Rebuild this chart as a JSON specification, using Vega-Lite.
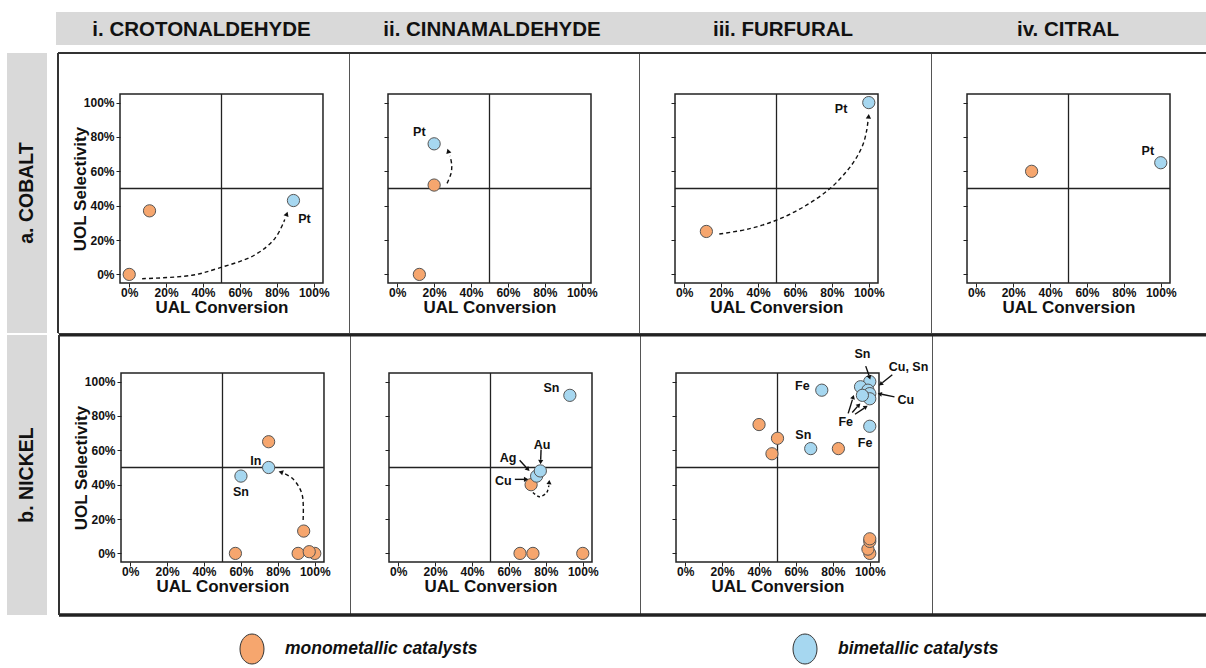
{
"$schema": "https://vega.github.io/schema/vega-lite/v6.json",
"padding": {"left": 7, "top": 12, "right": 0, "bottom": 0},
"background": "white",
"spacing": 6,
"config": {
  "font": "Liberation Sans",
  "view": {"stroke": null},
  "axis": {"grid": false, "domain": false, "labelFont": "Liberation Sans", "labelFontWeight": "bold", "labelFontSize": 12, "labelColor": "#111", "labelFlush": false, "labelOverlap": false, "titleFont": "Liberation Sans", "titleFontWeight": "bold", "titleFontSize": 17, "titleColor": "#111", "tickColor": "#222", "tickWidth": 1},
  "axisX": {"labelPadding": 0},
  "axisY": {"labelPadding": 2}
},
"datasets": {
  "pts": [
    {"c": "a1", "x": 0, "y": 0, "t": "m"}, {"c": "a1", "x": 11, "y": 37, "t": "m"}, {"c": "a1", "x": 89, "y": 43, "t": "b"},
    {"c": "a2", "x": 12, "y": 0, "t": "m"}, {"c": "a2", "x": 20, "y": 52, "t": "m"}, {"c": "a2", "x": 20, "y": 76, "t": "b"},
    {"c": "a3", "x": 12, "y": 25, "t": "m"}, {"c": "a3", "x": 100, "y": 100, "t": "b"},
    {"c": "a4", "x": 30, "y": 60, "t": "m"}, {"c": "a4", "x": 100, "y": 65, "t": "b"},
    {"c": "b1", "x": 57, "y": 0, "t": "m"}, {"c": "b1", "x": 91, "y": 0, "t": "m"}, {"c": "b1", "x": 100, "y": 0, "t": "m"}, {"c": "b1", "x": 97, "y": 1, "t": "m"}, {"c": "b1", "x": 94, "y": 13, "t": "m"}, {"c": "b1", "x": 75, "y": 65, "t": "m"}, {"c": "b1", "x": 60, "y": 45, "t": "b"}, {"c": "b1", "x": 75, "y": 50, "t": "b"},
    {"c": "b2", "x": 66, "y": 0, "t": "m"}, {"c": "b2", "x": 73, "y": 0, "t": "m"}, {"c": "b2", "x": 100, "y": 0, "t": "m"}, {"c": "b2", "x": 72, "y": 40, "t": "m"}, {"c": "b2", "x": 75, "y": 45, "t": "b"}, {"c": "b2", "x": 77, "y": 48, "t": "b"}, {"c": "b2", "x": 93, "y": 92, "t": "b"},
    {"c": "b3", "x": 40, "y": 75, "t": "m"}, {"c": "b3", "x": 50, "y": 67, "t": "m"}, {"c": "b3", "x": 47, "y": 58, "t": "m"}, {"c": "b3", "x": 83, "y": 61, "t": "m"}, {"c": "b3", "x": 100, "y": 0, "t": "m"}, {"c": "b3", "x": 99, "y": 2.5, "t": "m"}, {"c": "b3", "x": 100, "y": 7, "t": "m"}, {"c": "b3", "x": 100, "y": 8.5, "t": "m"},
    {"c": "b3", "x": 74, "y": 95, "t": "b"}, {"c": "b3", "x": 68, "y": 61, "t": "b"}, {"c": "b3", "x": 100, "y": 74, "t": "b"}, {"c": "b3", "x": 100, "y": 100, "t": "b"}, {"c": "b3", "x": 95, "y": 97, "t": "b"}, {"c": "b3", "x": 99, "y": 95, "t": "b"}, {"c": "b3", "x": 100, "y": 93, "t": "b"}, {"c": "b3", "x": 100, "y": 90, "t": "b"}, {"c": "b3", "x": 96, "y": 92, "t": "b"}
  ],
  "lbl": [
    {"c": "a1", "x": 95, "y": 32, "s": "Pt"},
    {"c": "a2", "x": 12, "y": 83, "s": "Pt"},
    {"c": "a3", "x": 85, "y": 96.5, "s": "Pt"},
    {"c": "a4", "x": 93, "y": 72, "s": "Pt"},
    {"c": "b1", "x": 68, "y": 53.5, "s": "In"}, {"c": "b1", "x": 60, "y": 36, "s": "Sn"},
    {"c": "b2", "x": 83, "y": 96, "s": "Sn"}, {"c": "b2", "x": 78, "y": 63, "s": "Au"}, {"c": "b2", "x": 59.5, "y": 55.5, "s": "Ag"}, {"c": "b2", "x": 57, "y": 42, "s": "Cu"},
    {"c": "b3", "x": 63.5, "y": 97.5, "s": "Fe"}, {"c": "b3", "x": 64, "y": 69, "s": "Sn"}, {"c": "b3", "x": 97.5, "y": 64, "s": "Fe"}, {"c": "b3", "x": 87, "y": 76.5, "s": "Fe"}, {"c": "b3", "x": 96, "y": 116, "s": "Sn"}, {"c": "b3", "x": 121, "y": 108.5, "s": "Cu, Sn"}, {"c": "b3", "x": 119.5, "y": 89, "s": "Cu"}
  ],
  "crv": [
    {"c": "a1", "id": 1, "o": 1, "x": 7, "y": -2.5}, {"c": "a1", "id": 1, "o": 2, "x": 34, "y": -0.5}, {"c": "a1", "id": 1, "o": 3, "x": 48, "y": 3.5}, {"c": "a1", "id": 1, "o": 4, "x": 68, "y": 11.3}, {"c": "a1", "id": 1, "o": 5, "x": 79, "y": 21}, {"c": "a1", "id": 1, "o": 6, "x": 84.3, "y": 32},
    {"c": "a2", "id": 1, "o": 1, "x": 27, "y": 53}, {"c": "a2", "id": 1, "o": 2, "x": 29.2, "y": 59}, {"c": "a2", "id": 1, "o": 3, "x": 29.5, "y": 64}, {"c": "a2", "id": 1, "o": 4, "x": 28.6, "y": 69},
    {"c": "a3", "id": 1, "o": 1, "x": 19, "y": 23.5}, {"c": "a3", "id": 1, "o": 2, "x": 35, "y": 26.5}, {"c": "a3", "id": 1, "o": 3, "x": 50, "y": 31.6}, {"c": "a3", "id": 1, "o": 4, "x": 65, "y": 39.5}, {"c": "a3", "id": 1, "o": 5, "x": 79, "y": 50}, {"c": "a3", "id": 1, "o": 6, "x": 88, "y": 60}, {"c": "a3", "id": 1, "o": 7, "x": 93, "y": 67.4}, {"c": "a3", "id": 1, "o": 8, "x": 97, "y": 76}, {"c": "a3", "id": 1, "o": 9, "x": 98.9, "y": 84}, {"c": "a3", "id": 1, "o": 10, "x": 99.6, "y": 89.5},
    {"c": "b1", "id": 1, "o": 1, "x": 93.7, "y": 19.5}, {"c": "b1", "id": 1, "o": 2, "x": 93.8, "y": 27}, {"c": "b1", "id": 1, "o": 3, "x": 93.2, "y": 34}, {"c": "b1", "id": 1, "o": 4, "x": 91, "y": 39.5}, {"c": "b1", "id": 1, "o": 5, "x": 87.5, "y": 44}, {"c": "b1", "id": 1, "o": 6, "x": 83.5, "y": 46.5},
    {"c": "b2", "id": 1, "o": 1, "x": 73, "y": 35.5}, {"c": "b2", "id": 1, "o": 2, "x": 76.5, "y": 33}, {"c": "b2", "id": 1, "o": 3, "x": 80.5, "y": 35.5}, {"c": "b2", "id": 1, "o": 4, "x": 81.6, "y": 39.5}
  ],
  "ptr": [
    {"c": "b2", "id": "au", "o": 1, "x": 77.4, "y": 60.5}, {"c": "b2", "id": "au", "o": 2, "x": 77.2, "y": 54.5},
    {"c": "b2", "id": "ag", "o": 1, "x": 65.8, "y": 54.2}, {"c": "b2", "id": "ag", "o": 2, "x": 69.5, "y": 49.8},
    {"c": "b2", "id": "cu", "o": 1, "x": 63.2, "y": 43.1}, {"c": "b2", "id": "cu", "o": 2, "x": 68.2, "y": 43.1},
    {"c": "b3", "id": "sn", "o": 1, "x": 97.8, "y": 109}, {"c": "b3", "id": "sn", "o": 2, "x": 99.6, "y": 103.5},
    {"c": "b3", "id": "cusn", "o": 1, "x": 112.2, "y": 104}, {"c": "b3", "id": "cusn", "o": 2, "x": 106.8, "y": 99.3},
    {"c": "b3", "id": "cu", "o": 1, "x": 113.4, "y": 91.1}, {"c": "b3", "id": "cu", "o": 2, "x": 106.5, "y": 92.6},
    {"c": "b3", "id": "fe1", "o": 1, "x": 88.3, "y": 81.5}, {"c": "b3", "id": "fe1", "o": 2, "x": 90.6, "y": 89.5},
    {"c": "b3", "id": "fe2", "o": 1, "x": 90.5, "y": 82}, {"c": "b3", "id": "fe2", "o": 2, "x": 93.4, "y": 85.6},
    {"c": "b3", "id": "fe3", "o": 1, "x": 92, "y": 81}, {"c": "b3", "id": "fe3", "o": 2, "x": 97, "y": 84.6}
  ],
  "hd": [
    {"c": "a1", "x": 85.4, "y": 35.2, "fx": 84.3, "fy": 32},
    {"c": "a2", "x": 27.6, "y": 71.8, "fx": 28.6, "fy": 68.5},
    {"c": "a3", "x": 99.9, "y": 92, "fx": 99.6, "fy": 88},
    {"c": "b1", "x": 81.6, "y": 47.3, "fx": 84.5, "fy": 46.3},
    {"c": "b2", "x": 81.8, "y": 41.5, "fx": 81.6, "fy": 39},
    {"c": "b2", "x": 77.15, "y": 53.2, "fx": 77.3, "fy": 57},
    {"c": "b2", "x": 70.3, "y": 48.9, "fx": 67, "fy": 52.5},
    {"c": "b2", "x": 69.3, "y": 43.1, "fx": 66, "fy": 43.1},
    {"c": "b3", "x": 99.9, "y": 102.4, "fx": 98.5, "fy": 106.5},
    {"c": "b3", "x": 105.9, "y": 98.5, "fx": 109, "fy": 101.2},
    {"c": "b3", "x": 105.4, "y": 92.8, "fx": 109, "fy": 92},
    {"c": "b3", "x": 91, "y": 91, "fx": 89.5, "fy": 86},
    {"c": "b3", "x": 94.1, "y": 86.4, "fx": 92, "fy": 84},
    {"c": "b3", "x": 97.9, "y": 85.3, "fx": 95, "fy": 83.3}
  ]
},
"vconcat": [
  {"hconcat": [
    {"width": 40, "height": 33, "view": {"stroke": null}, "data": {"values": [{}]}, "mark": {"type": "text", "text": ""}, "encoding": {}},
    {"hconcat": [
      {"width": 291, "height": 33, "view": {"stroke": null, "fill": "#d9d9d9"}, "data": {"values": [{"s": "i. CROTONALDEHYDE"}]}, "mark": {"type": "text", "fontSize": 20.5, "fontWeight": "bold", "color": "#111", "dy": 1}, "encoding": {"text": {"field": "s"}}},
      {"width": 290, "height": 33, "view": {"stroke": null, "fill": "#d9d9d9"}, "data": {"values": [{"s": "ii. CINNAMALDEHYDE"}]}, "mark": {"type": "text", "fontSize": 20.5, "fontWeight": "bold", "color": "#111", "dy": 1}, "encoding": {"text": {"field": "s"}}},
      {"width": 292, "height": 33, "view": {"stroke": null, "fill": "#d9d9d9"}, "data": {"values": [{"s": "iii. FURFURAL"}]}, "mark": {"type": "text", "fontSize": 20.5, "fontWeight": "bold", "color": "#111", "dy": 1}, "encoding": {"text": {"field": "s"}}},
      {"width": 278, "height": 33, "view": {"stroke": null, "fill": "#d9d9d9"}, "data": {"values": [{"s": "iv. CITRAL"}]}, "mark": {"type": "text", "fontSize": 20.5, "fontWeight": "bold", "color": "#111", "dy": 1}, "encoding": {"text": {"field": "s"}}}
    ], "spacing": 0, "bounds": "flush"}
  ], "spacing": 9},
  {"vconcat": [
    {"hconcat": [
      {"width": 40, "height": 280, "view": {"stroke": null, "fill": "#d9d9d9"}, "data": {"values": [{"s": "a. COBALT"}]}, "mark": {"type": "text", "fontSize": 19.5, "fontWeight": "bold", "color": "#111", "angle": 270}, "encoding": {"text": {"field": "s"}}},
      {"hconcat": [
        {"width": 291, "height": 280, "view": {"stroke": "#555", "strokeWidth": 1},
         "layer": [
          {"data": {"values": [{}]}, "mark": {"type": "rect", "fill": "transparent", "stroke": "#222", "strokeWidth": 1.5},
           "encoding": {
             "x": {"datum": -5, "type": "quantitative", "scale": {"domain": [-38.6, 119.1], "nice": false, "zero": false}, "axis": {"values": [0,10,20,30,40,50,60,70,80,90,100], "labelExpr": "datum.value % 20 === 0 ? datum.value + '%' : ''", "tickSize": {"condition": {"test": "datum.value % 20 === 0", "value": 4}, "value": 2.5}, "offset": -50, "title": "UAL Conversion", "titleX": 163.5, "titlePadding": 1}},
             "x2": {"datum": 105},
             "y": {"datum": -5, "type": "quantitative", "scale": {"domain": [-34.1, 128.86], "nice": false, "zero": false}, "axis": {"values": [0,10,20,30,40,50,60,70,80,90,100], "labelExpr": "datum.value % 20 === 0 ? datum.value + '%' : ''", "tickSize": {"condition": {"test": "datum.value % 20 === 0", "value": 4}, "value": 2.5}, "offset": -62, "title": "UOL Selectivity", "titleY": 135.5, "titlePadding": -6}},
             "y2": {"datum": 105}}},
          {"data": {"values": [{}]}, "mark": {"type": "rule", "color": "#222", "strokeWidth": 1.3}, "encoding": {"x": {"datum": 50}, "y": {"datum": -5}, "y2": {"datum": 105}}},
          {"data": {"values": [{}]}, "mark": {"type": "rule", "color": "#222", "strokeWidth": 1.3}, "encoding": {"y": {"datum": 50}, "x": {"datum": -5}, "x2": {"datum": 105}}},
          {"data": {"name": "crv"}, "transform": [{"filter": "datum.c === 'a1'"}], "mark": {"type": "line", "interpolate": "catmull-rom", "strokeDash": [4, 3], "strokeWidth": 1.4, "color": "#111"}, "encoding": {"x": {"field": "x", "type": "quantitative"}, "y": {"field": "y", "type": "quantitative"}, "detail": {"field": "id"}, "order": {"field": "o"}}},
          {"data": {"name": "hd"}, "transform": [{"filter": "datum.c === 'a1'"}, {"calculate": "atan2((datum.x-datum.fx)*1.8455,(datum.y-datum.fy)*1.718)*180/PI", "as": "ang"}], "mark": {"type": "point", "shape": "triangle-up", "filled": true, "color": "#111", "opacity": 1, "size": 28}, "encoding": {"x": {"field": "x", "type": "quantitative"}, "y": {"field": "y", "type": "quantitative"}, "angle": {"field": "ang", "type": "quantitative", "scale": null}}},
          {"data": {"name": "pts"}, "transform": [{"filter": "datum.c === 'a1'"}], "mark": {"type": "circle", "size": 150, "stroke": "#555", "strokeWidth": 1, "opacity": 1}, "encoding": {"x": {"field": "x", "type": "quantitative"}, "y": {"field": "y", "type": "quantitative"}, "fill": {"field": "t", "type": "nominal", "scale": {"domain": ["m", "b"], "range": ["#F6A66E", "#A6D7F0"]}, "legend": null}}},
          {"data": {"name": "lbl"}, "transform": [{"filter": "datum.c === 'a1'"}], "mark": {"type": "text", "fontSize": 12.5, "fontWeight": "bold", "color": "#111"}, "encoding": {"x": {"field": "x", "type": "quantitative"}, "y": {"field": "y", "type": "quantitative"}, "text": {"field": "s"}}},
          {"data": {"values": [{}]}, "mark": {"type": "rule", "color": "#333", "strokeWidth": 2}, "encoding": {"y": {"datum": 128.86}}},
          {"data": {"values": [{}]}, "mark": {"type": "rule", "color": "#333", "strokeWidth": 2}, "encoding": {"x": {"datum": -38.6}}}
         ]},
        {"width": 290, "height": 280, "view": {"stroke": "#555", "strokeWidth": 1},
         "layer": [
          {"data": {"values": [{}]}, "mark": {"type": "rect", "fill": "transparent", "stroke": "#222", "strokeWidth": 1.5},
           "encoding": {
             "x": {"datum": -5, "type": "quantitative", "scale": {"domain": [-26.13, 131.01], "nice": false, "zero": false}, "axis": {"values": [0,10,20,30,40,50,60,70,80,90,100], "labelExpr": "datum.value % 20 === 0 ? datum.value + '%' : ''", "tickSize": {"condition": {"test": "datum.value % 20 === 0", "value": 4}, "value": 2.5}, "offset": -50, "title": "UAL Conversion", "titleX": 140.5, "titlePadding": 1}},
             "x2": {"datum": 105},
             "y": {"datum": -5, "type": "quantitative", "scale": {"domain": [-34.1, 128.86], "nice": false, "zero": false}, "axis": {"values": [0,10,20,30,40,50,60,70,80,90,100], "labels": false, "tickSize": {"condition": {"test": "datum.value % 20 === 0", "value": 4}, "value": 2.5}, "offset": -39, "title": null}},
             "y2": {"datum": 105}}},
          {"data": {"values": [{}]}, "mark": {"type": "rule", "color": "#222", "strokeWidth": 1.3}, "encoding": {"x": {"datum": 50}, "y": {"datum": -5}, "y2": {"datum": 105}}},
          {"data": {"values": [{}]}, "mark": {"type": "rule", "color": "#222", "strokeWidth": 1.3}, "encoding": {"y": {"datum": 50}, "x": {"datum": -5}, "x2": {"datum": 105}}},
          {"data": {"name": "crv"}, "transform": [{"filter": "datum.c === 'a2'"}], "mark": {"type": "line", "interpolate": "catmull-rom", "strokeDash": [4, 3], "strokeWidth": 1.4, "color": "#111"}, "encoding": {"x": {"field": "x", "type": "quantitative"}, "y": {"field": "y", "type": "quantitative"}, "detail": {"field": "id"}, "order": {"field": "o"}}},
          {"data": {"name": "hd"}, "transform": [{"filter": "datum.c === 'a2'"}, {"calculate": "atan2((datum.x-datum.fx)*1.8455,(datum.y-datum.fy)*1.718)*180/PI", "as": "ang"}], "mark": {"type": "point", "shape": "triangle-up", "filled": true, "color": "#111", "opacity": 1, "size": 28}, "encoding": {"x": {"field": "x", "type": "quantitative"}, "y": {"field": "y", "type": "quantitative"}, "angle": {"field": "ang", "type": "quantitative", "scale": null}}},
          {"data": {"name": "pts"}, "transform": [{"filter": "datum.c === 'a2'"}], "mark": {"type": "circle", "size": 150, "stroke": "#555", "strokeWidth": 1, "opacity": 1}, "encoding": {"x": {"field": "x", "type": "quantitative"}, "y": {"field": "y", "type": "quantitative"}, "fill": {"field": "t", "type": "nominal", "scale": {"domain": ["m", "b"], "range": ["#F6A66E", "#A6D7F0"]}, "legend": null}}},
          {"data": {"name": "lbl"}, "transform": [{"filter": "datum.c === 'a2'"}], "mark": {"type": "text", "fontSize": 12.5, "fontWeight": "bold", "color": "#111"}, "encoding": {"x": {"field": "x", "type": "quantitative"}, "y": {"field": "y", "type": "quantitative"}, "text": {"field": "s"}}},
          {"data": {"values": [{}]}, "mark": {"type": "rule", "color": "#333", "strokeWidth": 2}, "encoding": {"y": {"datum": 128.86}}}
         ]},
        {"width": 292, "height": 280, "view": {"stroke": "#555", "strokeWidth": 1},
         "layer": [
          {"data": {"values": [{}]}, "mark": {"type": "rect", "fill": "transparent", "stroke": "#222", "strokeWidth": 1.5},
           "encoding": {
             "x": {"datum": -5, "type": "quantitative", "scale": {"domain": [-24.51, 133.72], "nice": false, "zero": false}, "axis": {"values": [0,10,20,30,40,50,60,70,80,90,100], "labelExpr": "datum.value % 20 === 0 ? datum.value + '%' : ''", "tickSize": {"condition": {"test": "datum.value % 20 === 0", "value": 4}, "value": 2.5}, "offset": -50, "title": "UAL Conversion", "titleX": 137.5, "titlePadding": 1}},
             "x2": {"datum": 105},
             "y": {"datum": -5, "type": "quantitative", "scale": {"domain": [-34.1, 128.86], "nice": false, "zero": false}, "axis": {"values": [0,10,20,30,40,50,60,70,80,90,100], "labels": false, "tickSize": {"condition": {"test": "datum.value % 20 === 0", "value": 4}, "value": 2.5}, "offset": -36, "title": null}},
             "y2": {"datum": 105}}},
          {"data": {"values": [{}]}, "mark": {"type": "rule", "color": "#222", "strokeWidth": 1.3}, "encoding": {"x": {"datum": 50}, "y": {"datum": -5}, "y2": {"datum": 105}}},
          {"data": {"values": [{}]}, "mark": {"type": "rule", "color": "#222", "strokeWidth": 1.3}, "encoding": {"y": {"datum": 50}, "x": {"datum": -5}, "x2": {"datum": 105}}},
          {"data": {"name": "crv"}, "transform": [{"filter": "datum.c === 'a3'"}], "mark": {"type": "line", "interpolate": "catmull-rom", "strokeDash": [4, 3], "strokeWidth": 1.4, "color": "#111"}, "encoding": {"x": {"field": "x", "type": "quantitative"}, "y": {"field": "y", "type": "quantitative"}, "detail": {"field": "id"}, "order": {"field": "o"}}},
          {"data": {"name": "hd"}, "transform": [{"filter": "datum.c === 'a3'"}, {"calculate": "atan2((datum.x-datum.fx)*1.8455,(datum.y-datum.fy)*1.718)*180/PI", "as": "ang"}], "mark": {"type": "point", "shape": "triangle-up", "filled": true, "color": "#111", "opacity": 1, "size": 28}, "encoding": {"x": {"field": "x", "type": "quantitative"}, "y": {"field": "y", "type": "quantitative"}, "angle": {"field": "ang", "type": "quantitative", "scale": null}}},
          {"data": {"name": "pts"}, "transform": [{"filter": "datum.c === 'a3'"}], "mark": {"type": "circle", "size": 150, "stroke": "#555", "strokeWidth": 1, "opacity": 1}, "encoding": {"x": {"field": "x", "type": "quantitative"}, "y": {"field": "y", "type": "quantitative"}, "fill": {"field": "t", "type": "nominal", "scale": {"domain": ["m", "b"], "range": ["#F6A66E", "#A6D7F0"]}, "legend": null}}},
          {"data": {"name": "lbl"}, "transform": [{"filter": "datum.c === 'a3'"}], "mark": {"type": "text", "fontSize": 12.5, "fontWeight": "bold", "color": "#111"}, "encoding": {"x": {"field": "x", "type": "quantitative"}, "y": {"field": "y", "type": "quantitative"}, "text": {"field": "s"}}},
          {"data": {"values": [{}]}, "mark": {"type": "rule", "color": "#333", "strokeWidth": 2}, "encoding": {"y": {"datum": 128.86}}}
         ]},
        {"width": 278, "height": 280, "view": {"stroke": "#555", "strokeWidth": 1},
         "layer": [
          {"data": {"values": [{}]}, "mark": {"type": "rect", "fill": "transparent", "stroke": "#222", "strokeWidth": 1.5},
           "encoding": {
             "x": {"datum": -5, "type": "quantitative", "scale": {"domain": [-24.51, 126.13], "nice": false, "zero": false}, "axis": {"values": [0,10,20,30,40,50,60,70,80,90,100], "labelExpr": "datum.value % 20 === 0 ? datum.value + '%' : ''", "tickSize": {"condition": {"test": "datum.value % 20 === 0", "value": 4}, "value": 2.5}, "offset": -50, "title": "UAL Conversion", "titleX": 137.5, "titlePadding": 1}},
             "x2": {"datum": 105},
             "y": {"datum": -5, "type": "quantitative", "scale": {"domain": [-34.1, 128.86], "nice": false, "zero": false}, "axis": {"values": [0,10,20,30,40,50,60,70,80,90,100], "labels": false, "tickSize": {"condition": {"test": "datum.value % 20 === 0", "value": 4}, "value": 2.5}, "offset": -36, "title": null}},
             "y2": {"datum": 105}}},
          {"data": {"values": [{}]}, "mark": {"type": "rule", "color": "#222", "strokeWidth": 1.3}, "encoding": {"x": {"datum": 50}, "y": {"datum": -5}, "y2": {"datum": 105}}},
          {"data": {"values": [{}]}, "mark": {"type": "rule", "color": "#222", "strokeWidth": 1.3}, "encoding": {"y": {"datum": 50}, "x": {"datum": -5}, "x2": {"datum": 105}}},
          {"data": {"name": "pts"}, "transform": [{"filter": "datum.c === 'a4'"}], "mark": {"type": "circle", "size": 150, "stroke": "#555", "strokeWidth": 1, "opacity": 1}, "encoding": {"x": {"field": "x", "type": "quantitative"}, "y": {"field": "y", "type": "quantitative"}, "fill": {"field": "t", "type": "nominal", "scale": {"domain": ["m", "b"], "range": ["#F6A66E", "#A6D7F0"]}, "legend": null}}},
          {"data": {"name": "lbl"}, "transform": [{"filter": "datum.c === 'a4'"}], "mark": {"type": "text", "fontSize": 12.5, "fontWeight": "bold", "color": "#111"}, "encoding": {"x": {"field": "x", "type": "quantitative"}, "y": {"field": "y", "type": "quantitative"}, "text": {"field": "s"}}},
          {"data": {"values": [{}]}, "mark": {"type": "rule", "color": "#333", "strokeWidth": 2}, "encoding": {"y": {"datum": 128.86}}}
         ]}
      ], "spacing": 0, "bounds": "flush"}
    ], "spacing": 9},
    {"hconcat": [
      {"width": 40, "height": 280, "view": {"stroke": null, "fill": "#d9d9d9"}, "data": {"values": [{"s": "b. NICKEL"}]}, "mark": {"type": "text", "fontSize": 19.5, "fontWeight": "bold", "color": "#111", "angle": 270}, "encoding": {"text": {"field": "s"}}},
      {"hconcat": [
        {"width": 291, "height": 280, "view": {"stroke": "#555", "strokeWidth": 1},
         "layer": [
          {"data": {"values": [{}]}, "mark": {"type": "rect", "fill": "transparent", "stroke": "#222", "strokeWidth": 1.5},
           "encoding": {
             "x": {"datum": -5, "type": "quantitative", "scale": {"domain": [-38.6, 119.1], "nice": false, "zero": false}, "axis": {"values": [0,10,20,30,40,50,60,70,80,90,100], "labelExpr": "datum.value % 20 === 0 ? datum.value + '%' : ''", "tickSize": {"condition": {"test": "datum.value % 20 === 0", "value": 4}, "value": 2.5}, "offset": -53, "title": "UAL Conversion", "titleX": 163.5, "titlePadding": 1}},
             "x2": {"datum": 105},
             "y": {"datum": -5, "type": "quantitative", "scale": {"domain": [-35.85, 127.12], "nice": false, "zero": false}, "axis": {"values": [0,10,20,30,40,50,60,70,80,90,100], "labelExpr": "datum.value % 20 === 0 ? datum.value + '%' : ''", "tickSize": {"condition": {"test": "datum.value % 20 === 0", "value": 4}, "value": 2.5}, "offset": -62, "title": "UOL Selectivity", "titleY": 132.5, "titlePadding": -6}},
             "y2": {"datum": 105}}},
          {"data": {"values": [{}]}, "mark": {"type": "rule", "color": "#222", "strokeWidth": 1.3}, "encoding": {"x": {"datum": 50}, "y": {"datum": -5}, "y2": {"datum": 105}}},
          {"data": {"values": [{}]}, "mark": {"type": "rule", "color": "#222", "strokeWidth": 1.3}, "encoding": {"y": {"datum": 50}, "x": {"datum": -5}, "x2": {"datum": 105}}},
          {"data": {"name": "crv"}, "transform": [{"filter": "datum.c === 'b1'"}], "mark": {"type": "line", "interpolate": "catmull-rom", "strokeDash": [4, 3], "strokeWidth": 1.4, "color": "#111"}, "encoding": {"x": {"field": "x", "type": "quantitative"}, "y": {"field": "y", "type": "quantitative"}, "detail": {"field": "id"}, "order": {"field": "o"}}},
          {"data": {"name": "hd"}, "transform": [{"filter": "datum.c === 'b1'"}, {"calculate": "atan2((datum.x-datum.fx)*1.8455,(datum.y-datum.fy)*1.718)*180/PI", "as": "ang"}], "mark": {"type": "point", "shape": "triangle-up", "filled": true, "color": "#111", "opacity": 1, "size": 28}, "encoding": {"x": {"field": "x", "type": "quantitative"}, "y": {"field": "y", "type": "quantitative"}, "angle": {"field": "ang", "type": "quantitative", "scale": null}}},
          {"data": {"name": "pts"}, "transform": [{"filter": "datum.c === 'b1'"}], "mark": {"type": "circle", "size": 150, "stroke": "#555", "strokeWidth": 1, "opacity": 1}, "encoding": {"x": {"field": "x", "type": "quantitative"}, "y": {"field": "y", "type": "quantitative"}, "fill": {"field": "t", "type": "nominal", "scale": {"domain": ["m", "b"], "range": ["#F6A66E", "#A6D7F0"]}, "legend": null}}},
          {"data": {"name": "lbl"}, "transform": [{"filter": "datum.c === 'b1'"}], "mark": {"type": "text", "fontSize": 12.5, "fontWeight": "bold", "color": "#111"}, "encoding": {"x": {"field": "x", "type": "quantitative"}, "y": {"field": "y", "type": "quantitative"}, "text": {"field": "s"}}},
          {"data": {"values": [{}]}, "mark": {"type": "rule", "color": "#222", "strokeWidth": 3}, "encoding": {"y": {"datum": 127.12}}},
          {"data": {"values": [{}]}, "mark": {"type": "rule", "color": "#222", "strokeWidth": 3.5}, "encoding": {"y": {"datum": -35.85}}},
          {"data": {"values": [{}]}, "mark": {"type": "rule", "color": "#333", "strokeWidth": 2}, "encoding": {"x": {"datum": -38.6}}}
         ]},
        {"width": 290, "height": 280, "view": {"stroke": "#555", "strokeWidth": 1},
         "layer": [
          {"data": {"values": [{}]}, "mark": {"type": "rect", "fill": "transparent", "stroke": "#222", "strokeWidth": 1.5},
           "encoding": {
             "x": {"datum": -5, "type": "quantitative", "scale": {"domain": [-26.13, 131.01], "nice": false, "zero": false}, "axis": {"values": [0,10,20,30,40,50,60,70,80,90,100], "labelExpr": "datum.value % 20 === 0 ? datum.value + '%' : ''", "tickSize": {"condition": {"test": "datum.value % 20 === 0", "value": 4}, "value": 2.5}, "offset": -53, "title": "UAL Conversion", "titleX": 140.5, "titlePadding": 1}},
             "x2": {"datum": 105},
             "y": {"datum": -5, "type": "quantitative", "scale": {"domain": [-35.85, 127.12], "nice": false, "zero": false}, "axis": {"values": [0,10,20,30,40,50,60,70,80,90,100], "labels": false, "tickSize": {"condition": {"test": "datum.value % 20 === 0", "value": 4}, "value": 2.5}, "offset": -39, "title": null}},
             "y2": {"datum": 105}}},
          {"data": {"values": [{}]}, "mark": {"type": "rule", "color": "#222", "strokeWidth": 1.3}, "encoding": {"x": {"datum": 50}, "y": {"datum": -5}, "y2": {"datum": 105}}},
          {"data": {"values": [{}]}, "mark": {"type": "rule", "color": "#222", "strokeWidth": 1.3}, "encoding": {"y": {"datum": 50}, "x": {"datum": -5}, "x2": {"datum": 105}}},
          {"data": {"name": "crv"}, "transform": [{"filter": "datum.c === 'b2'"}], "mark": {"type": "line", "interpolate": "catmull-rom", "strokeDash": [3, 2.5], "strokeWidth": 1.4, "color": "#111"}, "encoding": {"x": {"field": "x", "type": "quantitative"}, "y": {"field": "y", "type": "quantitative"}, "detail": {"field": "id"}, "order": {"field": "o"}}},
          {"data": {"name": "ptr"}, "transform": [{"filter": "datum.c === 'b2'"}], "mark": {"type": "line", "strokeWidth": 1.4, "color": "#111"}, "encoding": {"x": {"field": "x", "type": "quantitative"}, "y": {"field": "y", "type": "quantitative"}, "detail": {"field": "id"}, "order": {"field": "o"}}},
          {"data": {"name": "pts"}, "transform": [{"filter": "datum.c === 'b2'"}], "mark": {"type": "circle", "size": 150, "stroke": "#555", "strokeWidth": 1, "opacity": 1}, "encoding": {"x": {"field": "x", "type": "quantitative"}, "y": {"field": "y", "type": "quantitative"}, "fill": {"field": "t", "type": "nominal", "scale": {"domain": ["m", "b"], "range": ["#F6A66E", "#A6D7F0"]}, "legend": null}}},
          {"data": {"name": "hd"}, "transform": [{"filter": "datum.c === 'b2'"}, {"calculate": "atan2((datum.x-datum.fx)*1.8455,(datum.y-datum.fy)*1.718)*180/PI", "as": "ang"}], "mark": {"type": "point", "shape": "triangle-up", "filled": true, "color": "#111", "opacity": 1, "size": 26}, "encoding": {"x": {"field": "x", "type": "quantitative"}, "y": {"field": "y", "type": "quantitative"}, "angle": {"field": "ang", "type": "quantitative", "scale": null}}},
          {"data": {"name": "lbl"}, "transform": [{"filter": "datum.c === 'b2'"}], "mark": {"type": "text", "fontSize": 12.5, "fontWeight": "bold", "color": "#111"}, "encoding": {"x": {"field": "x", "type": "quantitative"}, "y": {"field": "y", "type": "quantitative"}, "text": {"field": "s"}}},
          {"data": {"values": [{}]}, "mark": {"type": "rule", "color": "#222", "strokeWidth": 3}, "encoding": {"y": {"datum": 127.12}}},
          {"data": {"values": [{}]}, "mark": {"type": "rule", "color": "#222", "strokeWidth": 3.5}, "encoding": {"y": {"datum": -35.85}}}
         ]},
        {"width": 292, "height": 280, "view": {"stroke": "#555", "strokeWidth": 1},
         "layer": [
          {"data": {"values": [{}]}, "mark": {"type": "rect", "fill": "transparent", "stroke": "#222", "strokeWidth": 1.5},
           "encoding": {
             "x": {"datum": -5, "type": "quantitative", "scale": {"domain": [-24.51, 133.72], "nice": false, "zero": false}, "axis": {"values": [0,10,20,30,40,50,60,70,80,90,100], "labelExpr": "datum.value % 20 === 0 ? datum.value + '%' : ''", "tickSize": {"condition": {"test": "datum.value % 20 === 0", "value": 4}, "value": 2.5}, "offset": -53, "title": "UAL Conversion", "titleX": 137.5, "titlePadding": 1}},
             "x2": {"datum": 105},
             "y": {"datum": -5, "type": "quantitative", "scale": {"domain": [-35.85, 127.12], "nice": false, "zero": false}, "axis": {"values": [0,10,20,30,40,50,60,70,80,90,100], "labels": false, "tickSize": {"condition": {"test": "datum.value % 20 === 0", "value": 4}, "value": 2.5}, "offset": -36, "title": null}},
             "y2": {"datum": 105}}},
          {"data": {"values": [{}]}, "mark": {"type": "rule", "color": "#222", "strokeWidth": 1.3}, "encoding": {"x": {"datum": 50}, "y": {"datum": -5}, "y2": {"datum": 105}}},
          {"data": {"values": [{}]}, "mark": {"type": "rule", "color": "#222", "strokeWidth": 1.3}, "encoding": {"y": {"datum": 50}, "x": {"datum": -5}, "x2": {"datum": 105}}},
          {"data": {"name": "ptr"}, "transform": [{"filter": "datum.c === 'b3'"}], "mark": {"type": "line", "strokeWidth": 1.4, "color": "#111"}, "encoding": {"x": {"field": "x", "type": "quantitative"}, "y": {"field": "y", "type": "quantitative"}, "detail": {"field": "id"}, "order": {"field": "o"}}},
          {"data": {"name": "pts"}, "transform": [{"filter": "datum.c === 'b3'"}], "mark": {"type": "circle", "size": 150, "stroke": "#555", "strokeWidth": 1, "opacity": 1}, "encoding": {"x": {"field": "x", "type": "quantitative"}, "y": {"field": "y", "type": "quantitative"}, "fill": {"field": "t", "type": "nominal", "scale": {"domain": ["m", "b"], "range": ["#F6A66E", "#A6D7F0"]}, "legend": null}}},
          {"data": {"name": "hd"}, "transform": [{"filter": "datum.c === 'b3'"}, {"calculate": "atan2((datum.x-datum.fx)*1.8455,(datum.y-datum.fy)*1.718)*180/PI", "as": "ang"}], "mark": {"type": "point", "shape": "triangle-up", "filled": true, "color": "#111", "opacity": 1, "size": 24}, "encoding": {"x": {"field": "x", "type": "quantitative"}, "y": {"field": "y", "type": "quantitative"}, "angle": {"field": "ang", "type": "quantitative", "scale": null}}},
          {"data": {"name": "lbl"}, "transform": [{"filter": "datum.c === 'b3'"}], "mark": {"type": "text", "fontSize": 12.5, "fontWeight": "bold", "color": "#111"}, "encoding": {"x": {"field": "x", "type": "quantitative"}, "y": {"field": "y", "type": "quantitative"}, "text": {"field": "s"}}},
          {"data": {"values": [{}]}, "mark": {"type": "rule", "color": "#222", "strokeWidth": 3}, "encoding": {"y": {"datum": 127.12}}},
          {"data": {"values": [{}]}, "mark": {"type": "rule", "color": "#222", "strokeWidth": 3.5}, "encoding": {"y": {"datum": -35.85}}}
         ]},
        {"width": 278, "height": 280, "view": {"stroke": "#555", "strokeWidth": 1},
         "layer": [
          {"data": {"values": [{}]}, "mark": {"type": "rule", "color": "#222", "strokeWidth": 3}, "encoding": {"y": {"datum": 127.12, "type": "quantitative", "scale": {"domain": [-35.85, 127.12], "nice": false, "zero": false}, "axis": null}}},
          {"data": {"values": [{}]}, "mark": {"type": "rule", "color": "#222", "strokeWidth": 3.5}, "encoding": {"y": {"datum": -35.85}}}
         ]}
      ], "spacing": 0, "bounds": "flush"}
    ], "spacing": 9}
  ], "spacing": -4},
  {"width": 1043, "height": 50, "view": {"stroke": null},
   "data": {"values": [{"t": "m", "s": "monometallic catalysts"}, {"t": "b", "s": "bimetallic catalysts"}]},
   "layer": [
     {"mark": {"type": "point", "shape": "M0,-1C0.45,-1 0.8,-0.55 0.8,0C0.8,0.55 0.45,1 0,1C-0.45,1 -0.8,0.55 -0.8,0C-0.8,-0.55 -0.45,-1 0,-1Z", "size": 900, "filled": true, "stroke": "#333", "strokeWidth": 1, "opacity": 1},
      "encoding": {"x": {"field": "t", "type": "nominal", "scale": {"type": "point", "domain": ["m", "b"], "padding": 0.443}, "axis": null}, "fill": {"field": "t", "type": "nominal", "scale": {"domain": ["m", "b"], "range": ["#F6A66E", "#A6D7F0"]}, "legend": null}}},
     {"mark": {"type": "text", "align": "left", "dx": 33, "fontSize": 17.5, "fontStyle": "italic", "fontWeight": "bold", "color": "#111"},
      "encoding": {"x": {"field": "t", "type": "nominal", "scale": {"type": "point", "domain": ["m", "b"], "padding": 0.443}, "axis": null}, "text": {"field": "s"}}}
   ]}
]
}
